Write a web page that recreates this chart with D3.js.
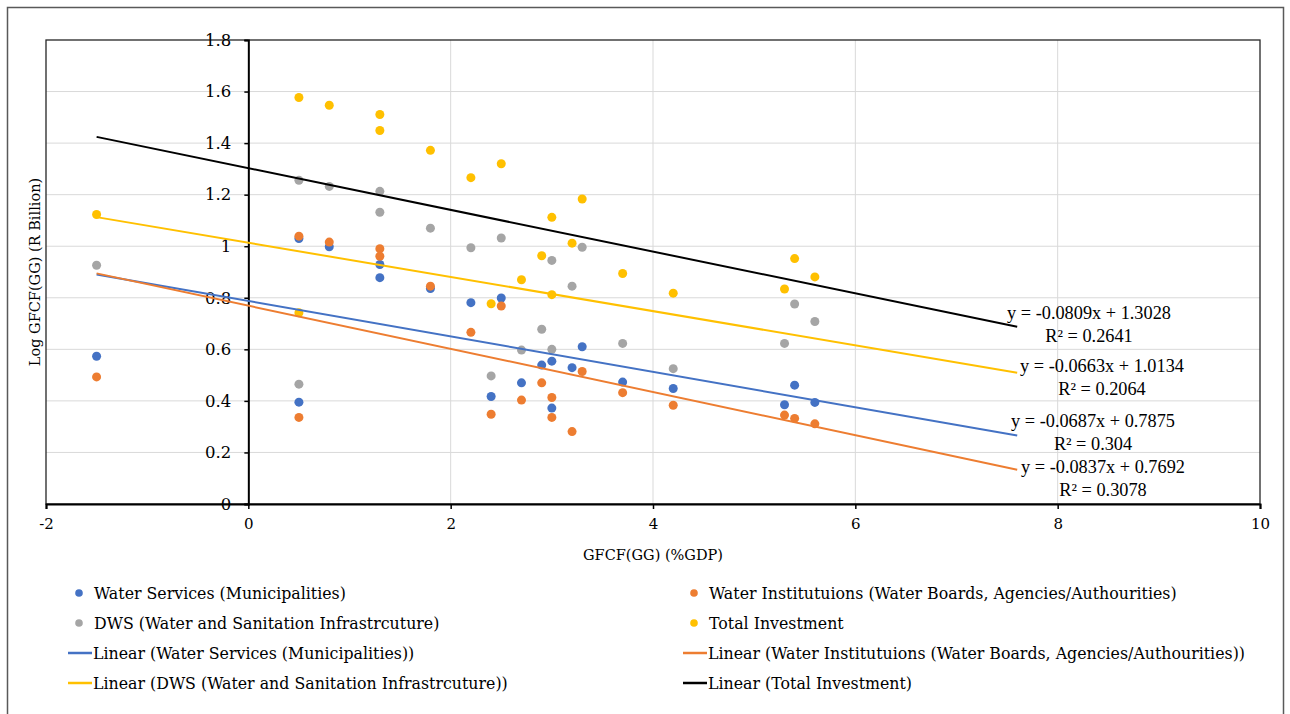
<!DOCTYPE html>
<html>
<head>
<meta charset="utf-8">
<script src="https://cdn.jsdelivr.net/npm/d3@7"></script>
<style>
  body { margin: 0; background: #fff; }
  text { font-family: "DejaVu Serif", "Liberation Serif", serif; fill: #000; }
</style>
</head>
<body>
<svg id="chart" width="1290" height="714"></svg>
<script>
// GFCF(GG) (%GDP) vs Log GFCF(GG) — four series with linear trend lines

// x values (one per observation, shared by all four series)
var X_GDP = [-1.5, 0.5, 0.5, 0.8, 1.3, 1.3, 1.8, 2.2, 2.4, 2.5, 2.7, 2.9, 3.0, 3.0, 3.2, 3.3, 3.7, 4.2, 5.3, 5.4, 5.6];

var WATER_SERVICES     = [0.573, 1.030, 0.395, 0.998, 0.929, 0.878, 0.836, 0.781, 0.417, 0.799, 0.470, 0.539, 0.554, 0.372, 0.529, 0.610, 0.473, 0.448, 0.385, 0.461, 0.394];
var WATER_INSTITUTIONS = [0.493, 1.039, 0.336, 1.016, 0.990, 0.961, 0.845, 0.666, 0.348, 0.768, 0.403, 0.470, 0.413, 0.336, 0.281, 0.514, 0.432, 0.383, 0.345, 0.332, 0.311];
var DWS                = [0.926, 1.256, 0.465, 1.232, 1.213, 1.132, 1.070, 0.994, 0.497, 1.032, 0.597, 0.678, 0.945, 0.600, 0.845, 0.996, 0.623, 0.525, 0.623, 0.776, 0.708];
var TOTAL              = [1.123, 1.577, 0.742, 1.547, 1.511, 1.449, 1.372, 1.266, 0.777, 1.320, 0.870, 0.963, 1.112, 0.812, 1.012, 1.183, 0.894, 0.818, 0.834, 0.952, 0.881];

var SERIES_NAMES = [
  "Water Services (Municipalities)",
  "Water Institutuions (Water Boards, Agencies/Authourities)",
  "DWS (Water and Sanitation Infrastrcuture)",
  "Total Investment"
];

// trend lines as labelled on the chart (slope, intercept, R²)
var TREND_SLOPE     = [-0.0687, -0.0837, -0.0663, -0.0809];
var TREND_INTERCEPT = [0.7875, 0.7692, 1.0134, 1.3028];
var TREND_R2        = ["0.304", "0.3078", "0.2064", "0.2641"];
var TREND_X         = [-1.5, 7.6];

var X_TICKS = [-2, 0, 2, 4, 6, 8, 10];
var Y_TICKS = [0, 0.2, 0.4, 0.6, 0.8, 1.0, 1.2, 1.4, 1.6, 1.8];

var MARKER_COLORS = ["#4472C4", "#ED7D31", "#A5A5A5", "#FFC000"];
var TREND_COLORS  = ["#4472C4", "#ED7D31", "#FFC000", "#000000"];

(function () {
  "use strict";

  var svg = d3.select("#chart");
  var plot = { left: 46, right: 1260, top: 40, bottom: 504 };
  var FONT = "DejaVu Serif, Liberation Serif, serif";
  var NUM_FONT = "Liberation Serif, serif";

  var x = d3.scaleLinear().domain([-2, 10]).range([plot.left, plot.right]);
  var y = d3.scaleLinear().domain([0, 1.8]).range([plot.bottom, plot.top]);

  // outer frame
  svg.append("rect")
    .attr("x", 7.5).attr("y", 7.5).attr("width", 1276).attr("height", 720)
    .attr("fill", "#fff").attr("stroke", "#595959").attr("stroke-width", 1.5);

  // gridlines
  svg.append("g").selectAll("line")
    .data(Y_TICKS.filter(function (d) { return d > 0 && d < 1.8; }))
    .enter().append("line")
    .attr("x1", plot.left).attr("x2", plot.right)
    .attr("y1", function (d) { return y(d); }).attr("y2", function (d) { return y(d); })
    .attr("stroke", "#d9d9d9").attr("stroke-width", 1);

  svg.append("g").selectAll("line")
    .data(X_TICKS.filter(function (d) { return d > -2 && d < 10 && d !== 0; }))
    .enter().append("line")
    .attr("y1", plot.top).attr("y2", plot.bottom)
    .attr("x1", function (d) { return x(d); }).attr("x2", function (d) { return x(d); })
    .attr("stroke", "#d9d9d9").attr("stroke-width", 1);

  // plot area border
  svg.append("rect")
    .attr("x", plot.left).attr("y", plot.top)
    .attr("width", plot.right - plot.left).attr("height", plot.bottom - plot.top)
    .attr("fill", "none").attr("stroke", "#262626").attr("stroke-width", 1.3);

  // x axis (at y = 0)
  var xAxis = svg.append("g")
    .attr("transform", "translate(0," + y(0) + ")")
    .call(d3.axisBottom(x).tickValues(X_TICKS).tickSize(5).tickPadding(9)
      .tickFormat(function (d) { return String(d); }));
  xAxis.select(".domain").attr("stroke", "#000").attr("stroke-width", 2);
  xAxis.selectAll(".tick line").attr("stroke", "#000").attr("stroke-width", 1.5);
  xAxis.selectAll(".tick text").style("font-family", FONT).style("font-size", "15px").attr("fill", "#000");

  // y axis (at x = 0)
  var yAxis = svg.append("g")
    .attr("transform", "translate(" + x(0) + ",0)")
    .call(d3.axisLeft(y).tickValues(Y_TICKS).tickSize(4).tickPadding(13)
      .tickFormat(function (d) { return String(+d.toFixed(1)); }));
  yAxis.select(".domain").attr("stroke", "#000").attr("stroke-width", 2);
  yAxis.selectAll(".tick line").attr("stroke", "#000").attr("stroke-width", 1.5);
  yAxis.selectAll(".tick text").style("font-family", FONT).style("font-size", "16.5px").attr("fill", "#000");

  // axis titles
  svg.append("text")
    .attr("x", (plot.left + plot.right) / 2).attr("y", 560)
    .attr("text-anchor", "middle").style("font-size", "14.5px")
    .text("GFCF(GG) (%GDP)");

  svg.append("text")
    .attr("transform", "translate(40,272) rotate(-90)")
    .attr("text-anchor", "middle").style("font-size", "14.5px")
    .text("Log GFCF(GG) (R Billion)");

  // markers
  var seriesValues = [WATER_SERVICES, WATER_INSTITUTIONS, DWS, TOTAL];
  seriesValues.forEach(function (vals, i) {
    svg.append("g").selectAll("circle")
      .data(vals)
      .enter().append("circle")
      .attr("cx", function (d, j) { return x(X_GDP[j]); })
      .attr("cy", function (d) { return y(d); })
      .attr("r", 4.5)
      .attr("fill", MARKER_COLORS[i]);
  });

  // trend lines
  TREND_SLOPE.forEach(function (m, i) {
    var b = TREND_INTERCEPT[i];
    svg.append("line")
      .attr("x1", x(TREND_X[0])).attr("y1", y(m * TREND_X[0] + b))
      .attr("x2", x(TREND_X[1])).attr("y2", y(m * TREND_X[1] + b))
      .attr("stroke", TREND_COLORS[i]).attr("stroke-width", 2);
  });

  // trend equation labels (centre of the equation line, placed as in the original)
  var labelPos = [[1089, 313], [1102, 366], [1093, 421], [1103, 467]];
  var labelOrder = [3, 2, 0, 1];
  labelOrder.forEach(function (i, k) {
    var m = TREND_SLOPE[i];
    var g = svg.append("g").attr("transform", "translate(" + labelPos[k][0] + "," + labelPos[k][1] + ")");
    g.append("text").attr("text-anchor", "middle").attr("y", 6)
      .style("font-family", NUM_FONT).style("font-size", "18.3px")
      .text("y = " + m.toFixed(4) + "x + " + TREND_INTERCEPT[i].toFixed(4));
    g.append("text").attr("text-anchor", "middle").attr("y", 29)
      .style("font-family", NUM_FONT).style("font-size", "18.3px")
      .text("R\u00B2 = " + TREND_R2[i]);
  });

  // legend
  var legendCols = [68, 683];
  var legendRows = [593, 623, 653, 683];
  var legendItems = [];
  SERIES_NAMES.forEach(function (name, i) {
    legendItems.push({ kind: "dot", color: MARKER_COLORS[i], label: name, col: i % 2, row: Math.floor(i / 2) });
  });
  SERIES_NAMES.forEach(function (name, i) {
    legendItems.push({ kind: "line", color: TREND_COLORS[i], label: "Linear (" + name + ")", col: i % 2, row: 2 + Math.floor(i / 2) });
  });

  var leg = svg.append("g").selectAll("g")
    .data(legendItems)
    .enter().append("g")
    .attr("transform", function (d) { return "translate(" + legendCols[d.col] + "," + legendRows[d.row] + ")"; });

  leg.filter(function (d) { return d.kind === "dot"; })
    .append("circle").attr("cx", 11).attr("cy", 0).attr("r", 3.8)
    .attr("fill", function (d) { return d.color; });

  leg.filter(function (d) { return d.kind === "line"; })
    .append("line").attr("x1", 0).attr("x2", 24).attr("y1", 0).attr("y2", 0)
    .attr("stroke", function (d) { return d.color; }).attr("stroke-width", 2.5);

  leg.append("text")
    .attr("x", function (d) { return d.kind === "dot" ? 26 : 25; })
    .attr("y", 5.5)
    .style("font-size", "15.8px")
    .text(function (d) { return d.label; });
})();
</script>
</body>
</html>
